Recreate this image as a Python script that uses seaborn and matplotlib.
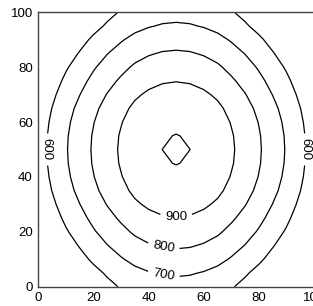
import matplotlib
matplotlib.use("Agg")
import matplotlib.pyplot as plt
import numpy as np
import seaborn as sns

# grid node coordinates (5 unit spacing)
xs = [0, 5, 10, 15, 20, 25, 30, 35, 40, 45, 50, 55, 60, 65, 70, 75, 80, 85, 90, 95, 100]
ys = [0, 5, 10, 15, 20, 25, 30, 35, 40, 45, 50, 55, 60, 65, 70, 75, 80, 85, 90, 95, 100]

# surface: z(x, y=50) and z(x=50, y)
x_profile = [557.7, 626.0, 693.0, 751.5, 810.9, 864.8, 911.6, 954.4, 982.7, 1000.1, 1006.0,
             1000.1, 982.7, 954.4, 911.6, 864.8, 810.9, 751.5, 693.0, 626.0, 557.7]
y_profile = [670.0, 711.0, 763.9, 811.3, 856.7, 897.6, 935.0, 966.9, 988.4, 1001.6, 1006.0,
             1001.6, 988.4, 966.9, 935.0, 897.6, 856.7, 811.3, 763.9, 711.0, 670.0]
peak = 1006.0

levels = [600, 700, 800, 900, 1000]
labelled = [600, 700, 800, 900]
xticks = [0, 20, 40, 60, 80, 100]
yticks = [0, 20, 40, 60, 80, 100]

# the field table for contour (rows = y, cols = x)
z = np.outer(y_profile, x_profile) / peak

sns.set_style("white")
plt.rcParams["font.family"] = ["Liberation Sans", "DejaVu Sans"]

fig = plt.figure(figsize=(3.13, 3.06), dpi=100)
ax = fig.add_axes([0.1224, 0.0631, 0.8808, 0.8967])

cs = ax.contour(xs, ys, z, levels=levels, colors="black", linewidths=0.9)
labels = ax.clabel(cs, levels=labelled, fmt="%d", fontsize=9.5, inline=True,
                   manual=[(3, 50), (97, 50), (50, 25), (45.5, 15), (45.5, 4.5)])
# both side labels read top-to-bottom
for t in labels:
    if abs(t.get_rotation() % 180 - 90) < 10:
        t.set_rotation(-90)

ax.set_xlim(0, 100)
ax.set_ylim(0, 100)
ax.set_xticks(xticks)
ax.set_yticks(yticks)
ax.tick_params(length=0, labelsize=9.5, colors="black", pad=4)
for side in ["left", "bottom", "top", "right"]:
    ax.spines[side].set_color("#444444")
    ax.spines[side].set_linewidth(1.0)

fig.savefig("out.png", dpi=100)
